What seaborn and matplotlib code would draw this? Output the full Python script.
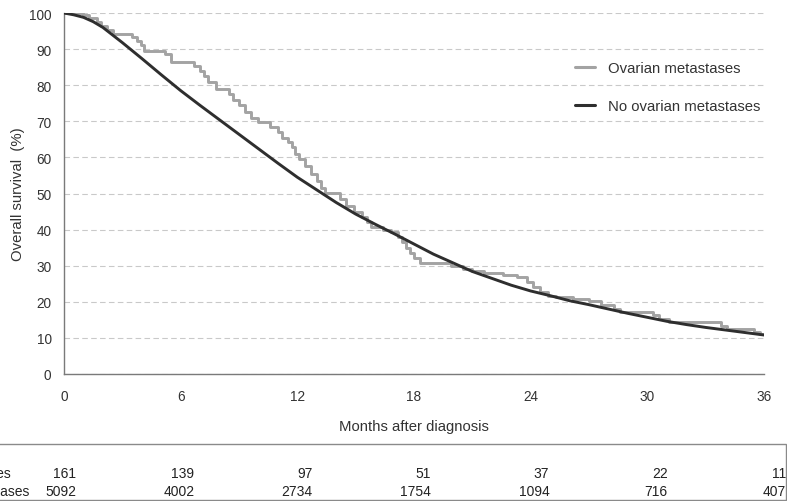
import matplotlib
matplotlib.use("Agg")
import matplotlib.pyplot as plt
import seaborn as sns
import pandas as pd
from matplotlib.patches import Rectangle
from matplotlib.lines import Line2D

# ---- data ----
ovarian_months = [0, 1.0, 1.3, 1.7, 1.9, 2.2, 2.5, 3.5, 3.75, 3.95, 4.1, 5.2, 5.5, 6.7, 7.0, 7.2,
                  7.4, 7.8, 8.5, 8.7, 9.0, 9.3, 9.6, 10.0, 10.6, 11.0, 11.2, 11.5, 11.7, 11.9,
                  12.1, 12.4, 12.7, 13.0, 13.2, 13.4, 14.2, 14.5, 14.9, 15.3, 15.6, 15.8, 16.4,
                  16.8, 17.2, 17.4, 17.6, 17.8, 18.0, 18.3, 19.9, 20.5, 21.0, 21.6, 22.6, 23.3,
                  23.8, 24.1, 24.5, 24.9, 25.3, 26.2, 27.0, 27.6, 28.3, 28.6, 30.3, 30.6, 31.1,
                  33.8, 34.1, 35.5, 35.8, 36.0]
ovarian_surv = [100, 99.4, 98.5, 97.5, 96.5, 95.2, 94.2, 93.3, 92.3, 91.0, 89.6, 88.6, 86.4, 85.2,
                84.0, 82.5, 81.0, 79.0, 77.5, 76.0, 74.5, 72.5, 71.0, 69.8, 68.4, 67.0, 65.5,
                64.2, 63.0, 61.0, 59.5, 57.6, 55.5, 53.5, 51.5, 50.2, 48.5, 46.5, 45.0, 43.5,
                42.0, 40.7, 40.0, 39.2, 38.0, 36.5, 35.0, 33.5, 32.0, 30.8, 30.0, 29.2, 28.5,
                28.0, 27.5, 26.8, 25.5, 24.0, 22.8, 21.5, 21.2, 20.8, 20.2, 19.0, 18.0, 17.3,
                16.3, 15.3, 14.4, 13.2, 12.4, 11.7, 11.0, 11.0]

noovarian_months = [0, 0.5, 1, 1.5, 2, 3, 4, 5, 6, 7, 8, 9, 10, 11, 12, 13, 14, 15, 16, 17, 18,
                    19, 20, 21, 22, 23, 24, 25, 26, 27, 28, 29, 30, 31, 32, 33, 34, 35, 36]
noovarian_surv = [100, 99.5, 98.8, 97.6, 96.0, 91.8, 87.4, 82.9, 78.5, 74.4, 70.4, 66.4, 62.4,
                  58.4, 54.5, 51, 47.5, 44.3, 41.5, 38.8, 36, 33.2, 30.8, 28.4, 26.5, 24.6, 23,
                  21.7, 20.3, 19.2, 18, 16.8, 15.7, 14.6, 13.7, 12.9, 12.2, 11.5, 10.8]

risk_months = [0, 6, 12, 18, 24, 30, 36]
risk_ovarian = [161, 139, 97, 51, 37, 22, 11]
risk_noovarian = [5092, 4002, 2734, 1754, 1094, 716, 407]
risk_labels = ["Ovarian metastases", "No ovarian metastases"]

x_ticks = [0, 6, 12, 18, 24, 30, 36]
y_ticks = [0, 10, 20, 30, 40, 50, 60, 70, 80, 90, 100]

series_names = ["Ovarian metastases", "No ovarian metastases"]
series_colors = ["#a3a3a3", "#2e2e2e"]

# ---- styling ----
sns.set_theme(style="white")
plt.rcParams['font.family'] = ['Liberation Sans', 'DejaVu Sans']

W, H = 787, 502
fig = plt.figure(figsize=(W / 100, H / 100), dpi=100)


def box(l, t, r, b):
    return [l / W, 1 - b / H, (r - l) / W, (b - t) / H]


ax = fig.add_axes(box(64, 14, 764, 375))

df_ov = pd.DataFrame({"month": ovarian_months, "surv": ovarian_surv})
df_no = pd.DataFrame({"month": noovarian_months, "surv": noovarian_surv})

sns.lineplot(data=df_no, x="month", y="surv", ax=ax, color=series_colors[1],
             linewidth=2.1, estimator=None, zorder=3)
sns.lineplot(data=df_ov, x="month", y="surv", ax=ax, color=series_colors[0],
             linewidth=2.1, estimator=None, drawstyle="steps-post", zorder=2)

ax.set_xlim(0, 36)
ax.set_ylim(0, 100)
ax.set_xticks(x_ticks)
ax.set_yticks(y_ticks)
ax.yaxis.grid(True, linestyle=(0, (5, 3)), color="#c9c9c9", linewidth=0.8)
ax.xaxis.grid(False)
ax.set_axisbelow(True)

for s in ["top", "right"]:
    ax.spines[s].set_visible(False)
for s in ["left", "bottom"]:
    ax.spines[s].set_color("#7a7a7a")
    ax.spines[s].set_linewidth(1.0)

ax.tick_params(axis="both", which="major", direction="out", length=4.0, width=1.0,
               color="#7a7a7a", labelsize=9.8, labelcolor="#333333")
ax.tick_params(axis="y", pad=5)
ax.tick_params(axis="x", pad=7)

ax.set_xlabel("Months after diagnosis", fontsize=10.7, color="#333333")
ax.set_ylabel("Overall survival  (%)", fontsize=10.7, color="#333333")
ax.xaxis.set_label_coords(0.5, (375 - 427) / 361, transform=ax.transAxes)
ax.yaxis.set_label_coords((18 - 64) / 700, 0.5, transform=ax.transAxes)
ax.xaxis.label.set_va("center")
ax.yaxis.label.set_va("center")

handles = [Line2D([], [], color=c, linewidth=2.2) for c in series_colors]
ax.legend(handles, series_names, loc="upper left", bbox_to_anchor=(0.73, 0.866),
          frameon=False, fontsize=10.7, handlelength=1.35, handletextpad=0.9,
          labelspacing=1.6, borderpad=0, borderaxespad=0, labelcolor="#333333")

# ---- number-at-risk table ----
tax = fig.add_axes(box(76, 445, 786, 501))
tax.set_xlim(0, 36)
tax.set_ylim(0, 1)
tax.axis("off")
row_y = [(501 - 474) / 56, (501 - 492) / 56]
for m, n in zip(risk_months, risk_ovarian):
    tax.text(m, row_y[0], str(n), ha="right", va="center", fontsize=10, color="#222222")
for m, n in zip(risk_months, risk_noovarian):
    tax.text(m, row_y[1], str(n), ha="right", va="center", fontsize=10, color="#222222")

t1 = fig.text(11 / W, 1 - 474 / H, risk_labels[0], ha="right", va="center",
              fontsize=10, color="#222222")
fig.canvas.draw()
bb = t1.get_window_extent(fig.canvas.get_renderer())
fig.text(bb.x0 / W, 1 - 492 / H, risk_labels[1], ha="left", va="center",
         fontsize=10, color="#222222")

fig.patches.append(Rectangle((-5 / W, 1 - 500.5 / H), (786 + 5) / W, 55.5 / H,
                             transform=fig.transFigure, fill=False,
                             edgecolor="#8a8a8a", linewidth=1.0))

fig.savefig("out.png", dpi=100)
